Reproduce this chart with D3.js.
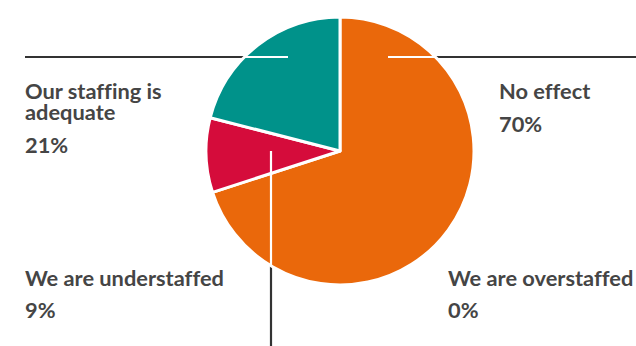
<!DOCTYPE html>
<html>
<head>
<meta charset="utf-8">
<script src="https://cdn.jsdelivr.net/npm/d3@7"></script>
<style>
  html, body { margin: 0; padding: 0; background: #fff; }
  svg { display: block; }
  text { font-family: Lato, "Open Sans", sans-serif; font-weight: 700; fill: #454545; font-variant-ligatures: none; }
</style>
</head>
<body>
<svg id="chart" width="636" height="346"></svg>
<script>
// Survey answers, in clockwise order from 12 o'clock
const categories = ["No effect", "We are overstaffed", "We are understaffed", "Our staffing is adequate"];
const values = [70, 0, 9, 21];
const colors = ["#ea680b", "#f0a070", "#d50c3b", "#00928a"];

const width = 636, height = 346;
const cx = 340, cy = 151, radius = 134;

const svg = d3.select("#chart");

// Label blocks: title lines and percentage, with anchor positions
const labelLayout = [
  { x: 499, lines: [99], pct: 132 },
  { x: 448, lines: [286], pct: 318 },
  { x: 25, lines: [286], pct: 318 },
  { x: 25, lines: [99, 120], pct: 153 }
];
const titleLines = [
  ["No effect"],
  ["We are overstaffed"],
  ["We are understaffed"],
  ["Our staffing is", "adequate"]
];

// Leader lines (horizontal pair at the top, vertical one below)
const leaders = [
  { x1: 25, y1: 57, x2: 288, y2: 57 },
  { x1: 388, y1: 57, x2: 636, y2: 57 },
  { x1: 271, y1: 151, x2: 271, y2: 346 }
];

const pie = d3.pie().sort(null).value(d => d)
  .startAngle(0).endAngle(2 * Math.PI);
const arcs = pie(values);
const arc = d3.arc().innerRadius(0).outerRadius(radius);

// Dark leader lines underneath the pie
svg.append("g").selectAll("line").data(leaders).join("line")
  .attr("x1", d => d.x1).attr("y1", d => d.y1)
  .attr("x2", d => d.x2).attr("y2", d => d.y2)
  .attr("stroke", "#333").attr("stroke-width", 2.2);

const g = svg.append("g").attr("transform", `translate(${cx},${cy})`);
g.selectAll("path").data(arcs.filter(a => a.value > 0)).join("path")
  .attr("d", arc)
  .attr("fill", d => colors[d.index])
  .attr("stroke", "#fff")
  .attr("stroke-width", 3)
  .attr("stroke-linejoin", "round");

// Leader segments over the pie turn white
svg.append("clipPath").attr("id", "pieClip")
  .append("circle").attr("cx", cx).attr("cy", cy).attr("r", radius);
svg.append("g").attr("clip-path", "url(#pieClip)")
  .selectAll("line").data(leaders).join("line")
  .attr("x1", d => d.x1).attr("y1", d => d.y1)
  .attr("x2", d => d.x2).attr("y2", d => d.y2)
  .attr("stroke", "#fff").attr("stroke-width", 2.2);

// Labels: a wrapped title (one text, one tspan per line) and the share
const fmt = d => d + "%";
const lab = svg.append("g").selectAll("g").data(categories).join("g");
lab.each(function(name, i) {
  const sel = d3.select(this);
  const L = labelLayout[i];
  const title = sel.append("text").style("font-size", "21.8px");
  titleLines[i].forEach((t, k) => {
    title.append("tspan").attr("x", L.x).attr("y", L.lines[k]).text(t);
  });
  sel.append("text").attr("x", L.x).attr("y", L.pct)
    .style("font-size", "21.8px").text(fmt(values[i]));
});
</script>
</body>
</html>
